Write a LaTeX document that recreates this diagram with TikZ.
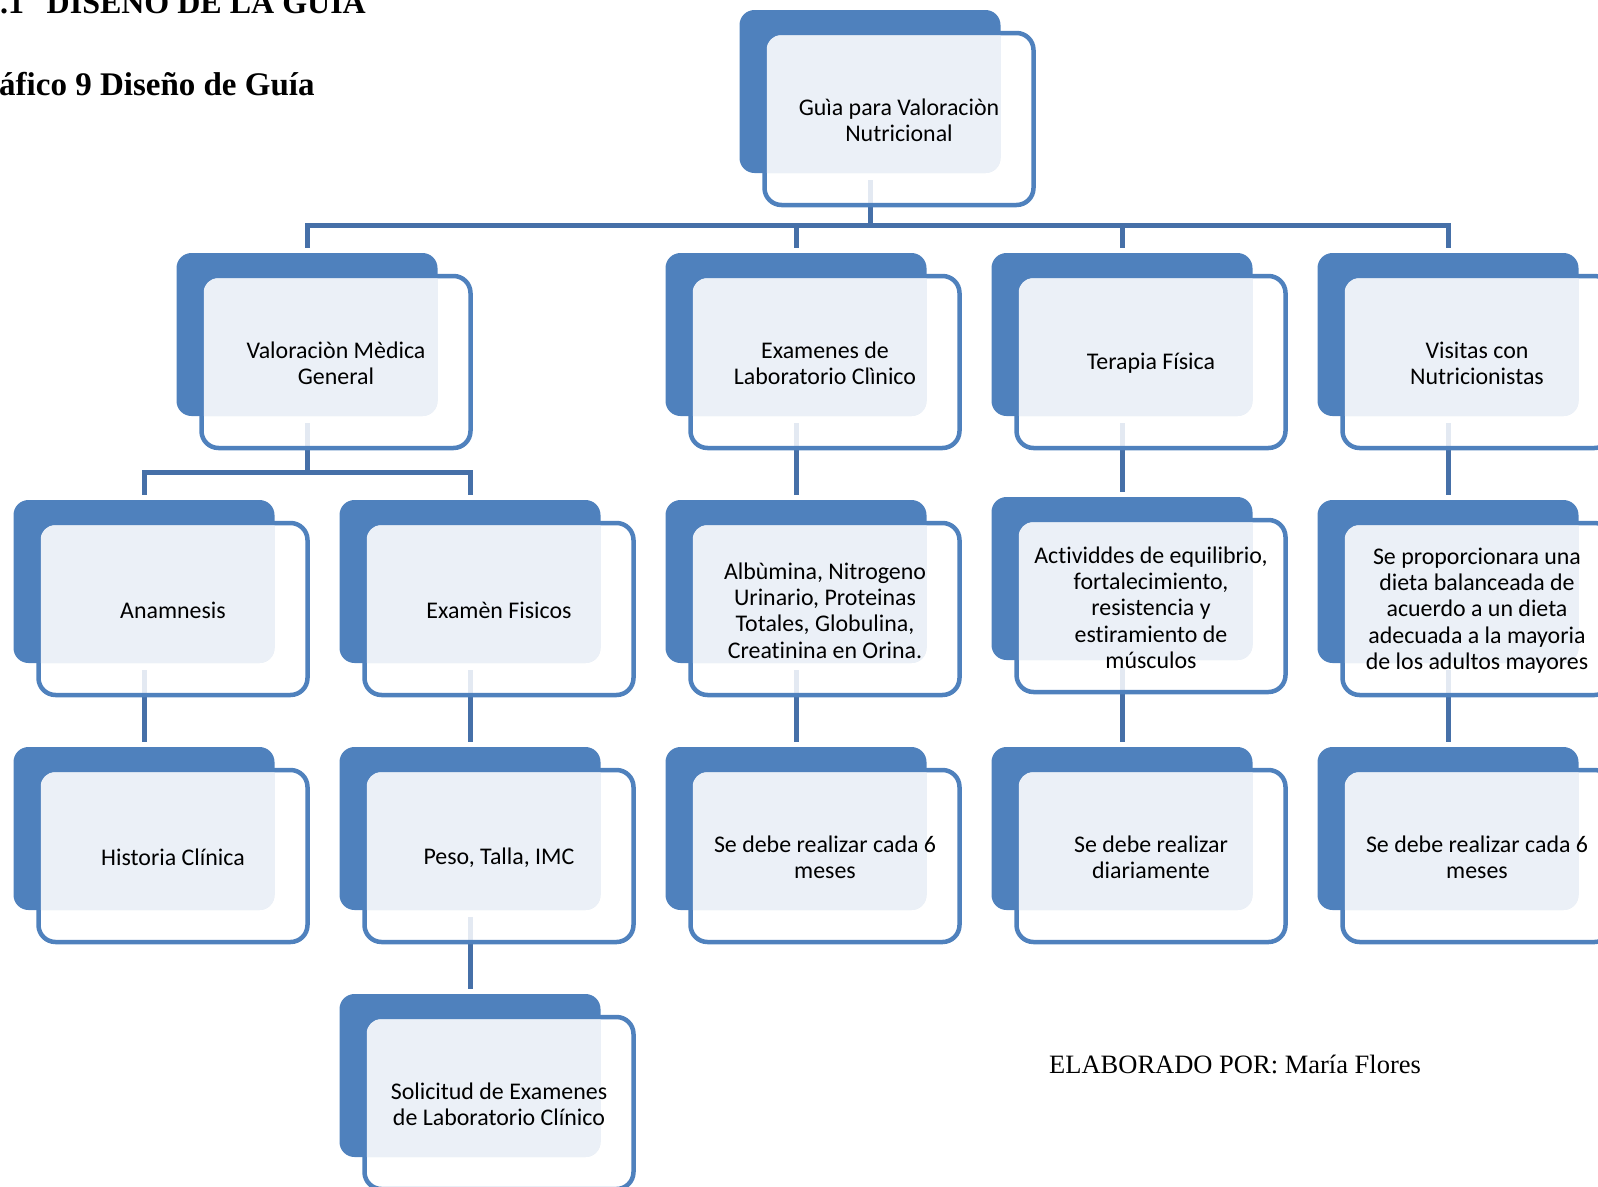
\documentclass[tikz,border=0pt]{standalone}
\usepackage{fontspec}
\setmainfont{Liberation Serif}
\newfontfamily\carlito[Ligatures=NoCommon]{Carlito}
\usetikzlibrary{backgrounds}
\definecolor{bblue}{RGB}{79,129,189}
\definecolor{lightc}{RGB}{235,240,247}
\definecolor{connc}{RGB}{70,112,168}
\tikzset{
 backbox/.style={fill=bblue, rounded corners=15pt, minimum width=261pt, minimum height=163pt, inner sep=0pt, outer sep=0pt},
 frontbox/.style={draw=bblue, line width=4.5pt, fill=white, fill opacity=0.85, rounded corners=17pt, minimum width=269pt, minimum height=172pt, inner sep=0pt, outer sep=0pt},
 boxtext/.style={font=\carlito\fontsize{23.9}{26.3}\selectfont, align=center, inner sep=0pt, text=black},
 conn/.style={draw=connc, line width=5pt, shorten <=7pt, shorten >=5pt},
 titletext/.style={font=\bfseries\fontsize{32}{36}\selectfont, anchor=base west, inner sep=0pt},
}
% #1 name, #2 column centre x, #3 top y, #4 text
\newcommand\gbox[4]{%
 \node[backbox] (#1-b) at ({#2+0.5},{#3+81.5}) {};
 \node[frontbox] (#1-f) at ({#2+29.5},{#3+109}) {};
 \begin{scope}
  \clip[rounded corners=15pt] ({#2-130},{#3}) rectangle ({#2+131},{#3+163});
  \fill[lightc, rounded corners=14pt] ({#2-102.75},{#3+25.25}) rectangle ({#2+161.75},{#3+192.75});
 \end{scope}
 \node[boxtext] (#1) at ([yshift=-1.5pt]#1-f.center) {#4};
}
\begin{document}
\begin{tikzpicture}[x=1pt,y=-1pt]
\useasboundingbox (0,0) rectangle (1598,1186);

\node[titletext] (t1) at (0,13) {.1};
\node[titletext] (t2) at (46.5,13) {DISEÑO DE LA GUIA};
\node[font=\bfseries\fontsize{33}{38}\selectfont, anchor=base west, inner sep=0pt] (t3) at (-1,95) {áfico 9 Diseño de Guía};

\gbox{root}{869.5}{10}{Guìa para Valoraciòn\\Nutricional}

\gbox{val}{306.5}{253}{Valoraciòn Mèdica\\General}
\gbox{lab}{795.5}{253}{Examenes de\\Laboratorio Clìnico}
\gbox{ter}{1121.5}{253}{Terapia Física}
\gbox{vis}{1447.5}{253}{Visitas con\\Nutricionistas}

\gbox{ana}{143.5}{500}{Anamnesis}
\gbox{exa}{469.5}{500}{Examèn Fisicos}
\gbox{alb}{795.5}{500}{Albùmina, Nitrogeno\\Urinario, Proteinas\\Totales, Globulina,\\Creatinina en Orina.}
\gbox{act}{1121.5}{497}{Actividdes de equilibrio,\\fortalecimiento,\\resistencia y\\estiramiento de\\músculos}
\gbox{die}{1447.5}{500}{Se proporcionara una\\dieta balanceada de\\acuerdo a un dieta\\adecuada a la mayoria\\de los adultos mayores}

\gbox{his}{143.5}{747}{Historia Clínica}
\gbox{pes}{469.5}{747}{Peso, Talla, IMC}
\gbox{sa}{795.5}{747}{Se debe realizar cada 6\\meses}
\gbox{dia}{1121.5}{747}{Se debe realizar\\diariamente}
\gbox{sb}{1447.5}{747}{Se debe realizar cada 6\\meses}

\gbox{sol}{469.5}{994}{Solicitud de Examenes\\de Laboratorio Clínico}

\node[font=\fontsize{26.5}{30}\selectfont, anchor=base west, inner sep=0pt] (elab) at (1049,1073) {ELABORADO POR: María Flores};

\coordinate (bar1) at (0,225);
\coordinate (bar2) at (0,472);
\begin{pgfonlayer}{background}
 \foreach \ch in {val,lab,ter,vis}
  \draw[conn] (root-b.south) -- (root-b.south |- bar1) -| (\ch-b.north);
 \foreach \ch in {ana,exa}
  \draw[conn] (val-b.south) -- (val-b.south |- bar2) -| (\ch-b.north);
 \draw[conn] (lab-b.south) -- (alb-b.north);
 \draw[conn] (ter-b.south) -- (act-b.north);
 \draw[conn] (vis-b.south) -- (die-b.north);
 \draw[conn] (ana-b.south) -- (his-b.north);
 \draw[conn] (exa-b.south) -- (pes-b.north);
 \draw[conn] (alb-b.south) -- (sa-b.north);
 \draw[conn] (act-b.south) -- (dia-b.north);
 \draw[conn] (die-b.south) -- (sb-b.north);
 \draw[conn] (pes-b.south) -- (sol-b.north);
\end{pgfonlayer}
\end{tikzpicture}
\end{document}
